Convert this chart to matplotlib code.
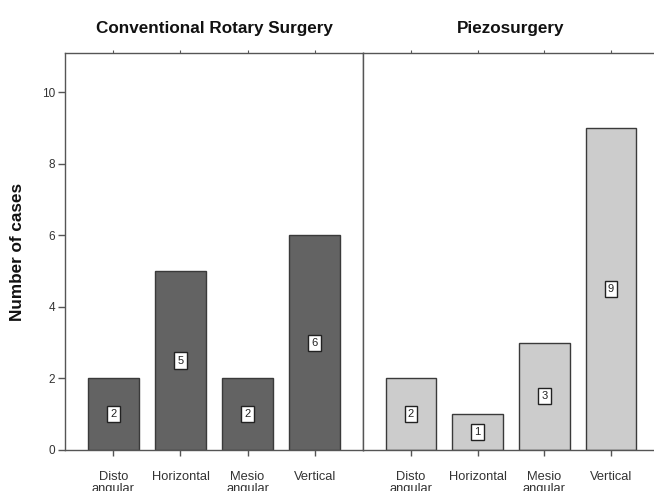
import matplotlib.pyplot as plt

categories = ["Disto\nangular", "Horizontal", "Mesio\nangular", "Vertical"]
groups = ["Conventional Rotary Surgery", "Piezosurgery"]
rotary_cases = [2, 5, 2, 6]
piezo_cases = [2, 1, 3, 9]
yticks = [0, 2, 4, 6, 8, 10]

plt.rcParams['font.family'] = ['Liberation Sans', 'DejaVu Sans']

fig = plt.figure(figsize=(6.54, 4.91), dpi=100)

# panel geometry in pixels: left spine 65, divider 363, right edge ~659
W, H = 654, 491
bottom = (H - 450) / H
height = (450 - 53) / H
ax1 = fig.add_axes([65 / W, bottom, (363 - 65) / W, height])
ax2 = fig.add_axes([363 / W, bottom, (659 - 363) / W, height])

spine_col = '#555555'
text_col = '#333333'

for ax, vals, color, title in [
    (ax1, rotary_cases, '#636363', groups[0]),
    (ax2, piezo_cases, '#cccccc', groups[1]),
]:
    x = list(range(len(categories)))
    ax.bar(x, vals, width=0.76, color=color, edgecolor='#3a3a3a', linewidth=1.0)
    for xi, v in zip(x, vals):
        ax.text(xi, v / 2, str(v), ha='center', va='center', fontsize=8,
                color='#222222',
                bbox=dict(boxstyle='square,pad=0.28', facecolor='white',
                          edgecolor='#222222', linewidth=1.0))
    ax.set_xlim(-0.72, 3.72)
    ax.set_ylim(0, 11.1)
    ax.set_xticks(x)
    ax.set_xticklabels(categories, fontsize=9.3, color=text_col,
                       verticalalignment='top', linespacing=1.0)
    ax.tick_params(axis='x', direction='out', length=4, width=1,
                   color=spine_col, pad=11)
    ax.tick_params(axis='x', which='major', top=True)
    ax.xaxis.set_tick_params(which='major', length=4)
    for tl in ax.xaxis.get_ticklines():
        pass
    for s in ax.spines.values():
        s.set_color(spine_col)
        s.set_linewidth(1.0)
    fig.text((ax.get_position().x0 + ax.get_position().x1) / 2, 1 - 28 / H,
             title, ha='center', va='center', fontsize=12.3,
             fontweight='bold', color='#111111')
    # small tick marks along the top frame
    for line in ax.xaxis.get_majorticklines()[1::2]:
        line.set_markersize(2)
        line.set_markeredgewidth(0.8)

ax1.set_yticks(yticks)
ax1.set_yticklabels([str(t) for t in yticks], fontsize=8.5, color=text_col)
ax1.tick_params(axis='y', direction='out', length=5, width=1, color=spine_col, pad=2)
ax1.set_ylabel("Number of cases", fontsize=12.3, fontweight='bold',
               color='#111111', labelpad=12)

ax2.set_yticks([])
ax2.spines['right'].set_visible(False)

fig.savefig("out.png", dpi=100)
